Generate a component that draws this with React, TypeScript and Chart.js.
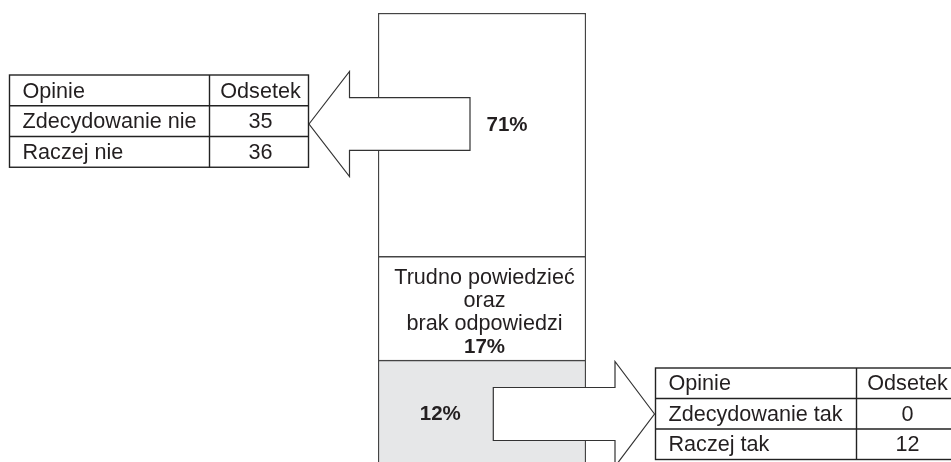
import React, { useEffect, useRef } from 'react';
import { Chart, registerables } from 'chart.js';

Chart.register(...registerables);

// ---------- data ----------
const categories = ['Opinie'];
const segmentNames = ['Tak', 'Trudno powiedzieć oraz brak odpowiedzi', 'Nie'];
const segmentPercents = [12, 17, 71];
const segmentFills = ['#e6e7e8', '#ffffff', '#ffffff'];
const middleLabelLines = ['Trudno powiedzieć', 'oraz', 'brak odpowiedzi'];
const tableHeaders = ['Opinie', 'Odsetek'];
const negativeOpinions = ['Zdecydowanie nie', 'Raczej nie'];
const negativeValues = [35, 36];
const positiveOpinions = ['Zdecydowanie tak', 'Raczej tak'];
const positiveValues = [0, 12];

// ---------- scale / layout ----------
const AXIS_MIN = 31; // offset of the (schematic) logarithmic axis
const FONT = '"Liberation Sans", Arial, Helvetica, sans-serif';
const TEXT = '#231f20';
const LINE = '#222222';

const W = 951;
const H = 462;

type TableSpec = {
  x: number;
  y: number;
  colW: number[];
  rowH: number;
  opinions: string[];
  values: number[];
};

const leftTable: TableSpec = { x: 9.5, y: 75, colW: [200, 99], rowH: 30.75, opinions: negativeOpinions, values: negativeValues };
const rightTable: TableSpec = { x: 655.5, y: 368, colW: [201, 99], rowH: 30.5, opinions: positiveOpinions, values: positiveValues };

function drawTable(ctx: CanvasRenderingContext2D, t: TableSpec) {
  const rows = [tableHeaders, ...t.opinions.map((o, i) => [o, String(t.values[i])])];
  const totalW = t.colW[0] + t.colW[1];
  const totalH = t.rowH * rows.length;
  ctx.save();
  ctx.fillStyle = '#ffffff';
  ctx.fillRect(t.x, t.y, totalW, totalH);
  ctx.strokeStyle = LINE;
  ctx.lineWidth = 1.4;
  ctx.strokeRect(t.x, t.y, totalW, totalH);
  ctx.beginPath();
  for (let r = 1; r < rows.length; r++) {
    ctx.moveTo(t.x, t.y + r * t.rowH);
    ctx.lineTo(t.x + totalW, t.y + r * t.rowH);
  }
  ctx.moveTo(t.x + t.colW[0], t.y);
  ctx.lineTo(t.x + t.colW[0], t.y + totalH);
  ctx.stroke();
  ctx.fillStyle = TEXT;
  ctx.font = `21.6px ${FONT}`;
  ctx.textBaseline = 'middle';
  rows.forEach((row, r) => {
    const cy = t.y + r * t.rowH + t.rowH / 2 + 1.2;
    ctx.textAlign = 'left';
    ctx.fillText(row[0], t.x + 13, cy);
    ctx.textAlign = 'center';
    ctx.fillText(row[1], t.x + t.colW[0] + t.colW[1] / 2 + 1.5, cy);
  });
  ctx.restore();
}

function drawArrow(
  ctx: CanvasRenderingContext2D,
  tipX: number,
  cy: number,
  headBaseX: number,
  tailX: number,
  headHalf: number,
  shaftHalf: number
) {
  ctx.save();
  ctx.beginPath();
  ctx.moveTo(tipX, cy);
  ctx.lineTo(headBaseX, cy - headHalf);
  ctx.lineTo(headBaseX, cy - shaftHalf);
  ctx.lineTo(tailX, cy - shaftHalf);
  ctx.lineTo(tailX, cy + shaftHalf);
  ctx.lineTo(headBaseX, cy + shaftHalf);
  ctx.lineTo(headBaseX, cy + headHalf);
  ctx.closePath();
  ctx.fillStyle = '#ffffff';
  ctx.fill();
  ctx.strokeStyle = '#333333';
  ctx.lineWidth = 1.2;
  ctx.stroke();
  ctx.restore();
}

const overlayPlugin = {
  id: 'overlay',
  afterDatasetsDraw(chart: any) {
    const ctx: CanvasRenderingContext2D = chart.ctx;
    const metas = segmentPercents.map((_, i) => chart.getDatasetMeta(i).data[0]);
    const bar = metas[0];
    const barCx = bar.x;
    const barHalf = bar.width / 2;
    const barLeft = barCx - barHalf;
    const barRight = barCx + barHalf;

    // arrows pointing from the bar to the tables
    const leftCy = 124;
    const leftTableRight = leftTable.x + leftTable.colW[0] + leftTable.colW[1];
    drawArrow(ctx, leftTableRight + 0.5, leftCy, leftTableRight + 41, barLeft + 92, 52.5, 26.4);

    const rightCy = 414;
    drawArrow(ctx, rightTable.x - 1, rightCy, rightTable.x - 40.5, barRight - 92.7, 52.5, 26.5);

    // segment labels
    ctx.save();
    ctx.fillStyle = TEXT;
    ctx.textAlign = 'center';
    ctx.textBaseline = 'middle';
    ctx.font = `bold 20.5px ${FONT}`;
    ctx.fillText(`${segmentPercents[2]}%`, barLeft + 92 + 37, leftCy + 1);
    ctx.fillText(`${segmentPercents[0]}%`, barRight - 92.7 - 53, rightCy);

    const mid = metas[1];
    const midCenter = (mid.y + mid.base) / 2 + 4.5;
    const lh = 23.35;
    const startY = midCenter - 1.5 * lh;
    ctx.font = `21.6px ${FONT}`;
    middleLabelLines.forEach((line, i) => {
      ctx.fillText(line, barCx + 2.5, startY + i * lh);
    });
    ctx.font = `bold 20.5px ${FONT}`;
    ctx.fillText(`${segmentPercents[1]}%`, barCx + 2.5, startY + 3 * lh);
    ctx.restore();

    drawTable(ctx, leftTable);
    drawTable(ctx, rightTable);
  },
};

export default function App() {
  const ref = useRef<HTMLCanvasElement | null>(null);

  useEffect(() => {
    if (!ref.current) return;
    let cum = AXIS_MIN;
    const datasets = segmentPercents.map((p, i) => {
      const start = cum;
      cum += p;
      return {
        label: segmentNames[i],
        data: [[start, cum]] as any,
        backgroundColor: segmentFills[i],
        borderColor: '#444444',
        borderWidth: 1.5,
        borderSkipped: 'start' as const,
        barPercentage: 1,
        categoryPercentage: 1,
        grouped: false,
      };
    });

    const chart = new Chart(ref.current, {
      type: 'bar',
      data: { labels: categories, datasets },
      options: {
        animation: false,
        responsive: false,
        devicePixelRatio: 1,
        events: [],
        layout: { padding: { left: 378, right: W - 586, top: 13, bottom: 0 } },
        plugins: {
          legend: { display: false },
          tooltip: { enabled: false },
          title: { display: false },
        },
        scales: {
          x: { display: false, offset: true },
          y: {
            type: 'logarithmic',
            display: false,
            min: AXIS_MIN,
            max: AXIS_MIN + 100,
            bounds: 'data',
          },
        },
      },
      plugins: [overlayPlugin],
    });
    return () => chart.destroy();
  }, []);

  return (
    <div style={{ position: 'fixed', left: 0, top: 0, width: W, height: H, background: '#ffffff' }}>
      <canvas ref={ref} width={W} height={H} style={{ display: 'block', width: W, height: H }} />
    </div>
  );
}
